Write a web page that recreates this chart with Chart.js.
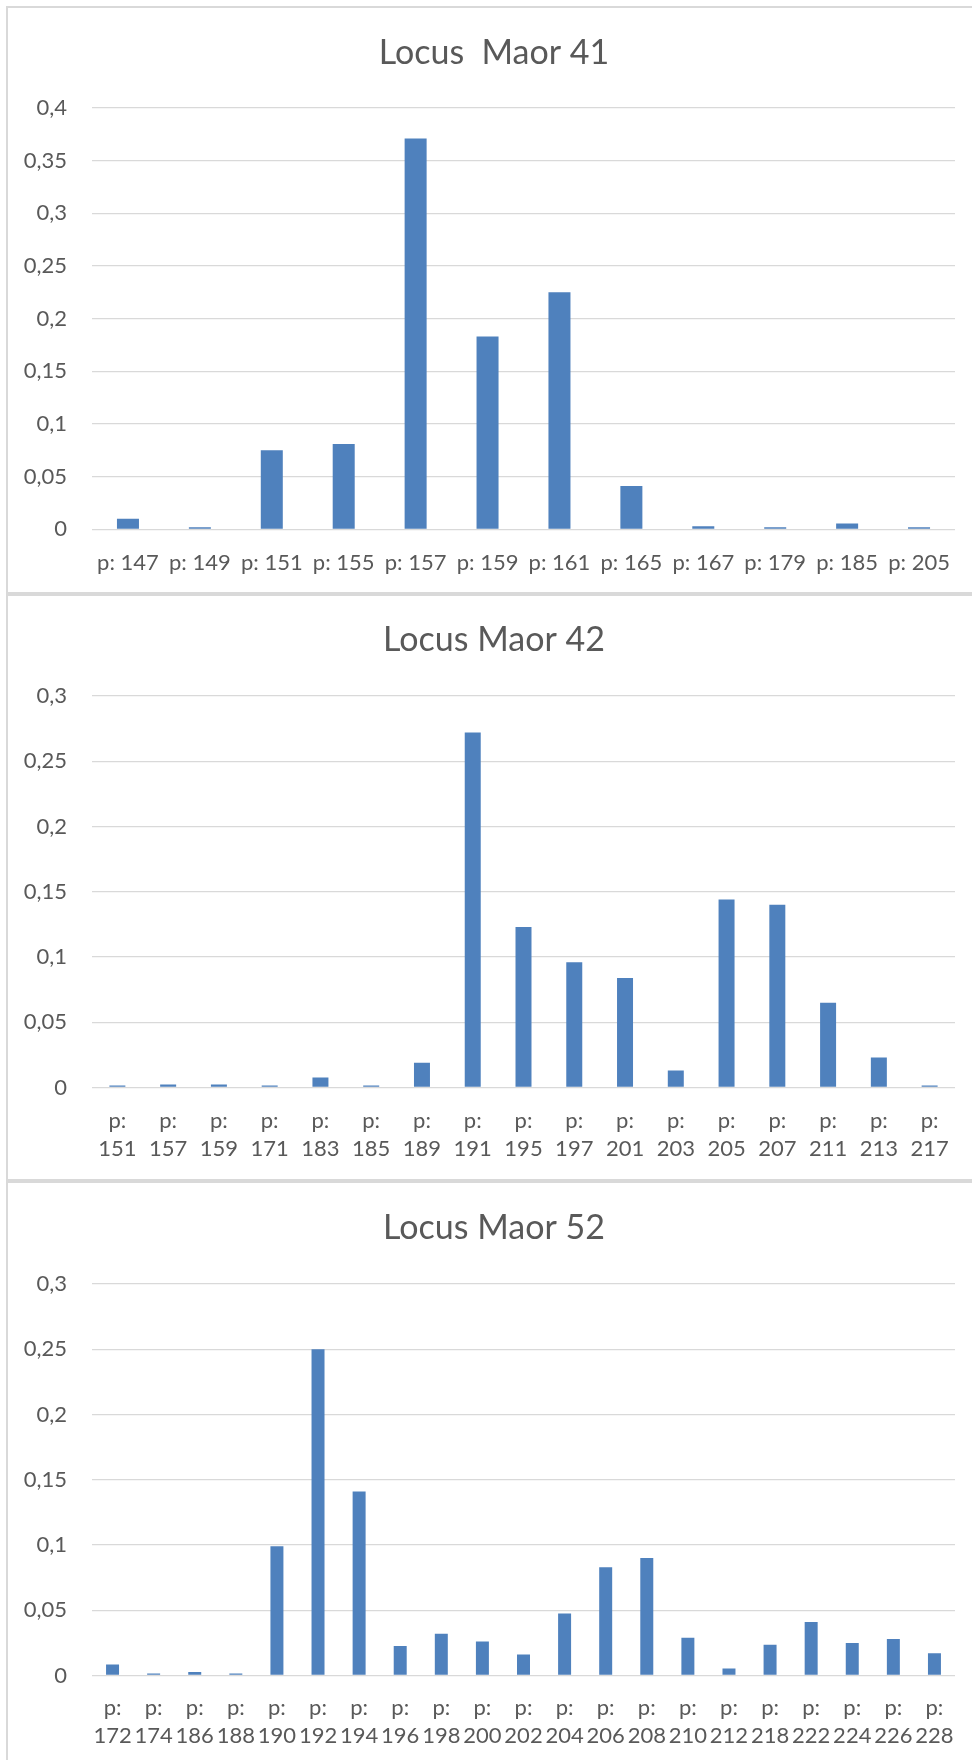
<!DOCTYPE html>
<html>
<head>
<meta charset="utf-8">
<script src="https://cdn.jsdelivr.net/npm/chart.js@4.4.1/dist/chart.umd.min.js"></script>
<style>
  html, body { margin: 0; padding: 0; background: #ffffff; overflow: hidden; width: 972px; height: 1760px; }
  .panel { position: absolute; left: 6px; border: 2px solid #d9d9d9; border-right: none; background: #fff; }
  canvas { display: block; }
</style>
</head>
<body>
<div class="panel" style="top:6px;width:972px;height:584px;"><canvas id="c1" width="972" height="584"></canvas></div>
<div class="panel" style="top:594px;width:972px;height:583px;"><canvas id="c2" width="972" height="583"></canvas></div>
<div class="panel" style="top:1181px;width:972px;height:600px;border-bottom:none;"><canvas id="c3" width="972" height="600"></canvas></div>
<script>
// ---- Data ----
const titles = ['Locus  Maor 41', 'Locus Maor 42', 'Locus Maor 52'];

const labels41 = ['p: 147', 'p: 149', 'p: 151', 'p: 155', 'p: 157', 'p: 159', 'p: 161', 'p: 165', 'p: 167', 'p: 179', 'p: 185', 'p: 205'];
const values41 = [0.010, 0.002, 0.075, 0.081, 0.371, 0.183, 0.225, 0.041, 0.003, 0.002, 0.0055, 0.002];

const labels42 = [['p:', '151'], ['p:', '157'], ['p:', '159'], ['p:', '171'], ['p:', '183'], ['p:', '185'], ['p:', '189'], ['p:', '191'], ['p:', '195'], ['p:', '197'], ['p:', '201'], ['p:', '203'], ['p:', '205'], ['p:', '207'], ['p:', '211'], ['p:', '213'], ['p:', '217']];
const values42 = [0.0015, 0.0023, 0.0023, 0.0015, 0.0076, 0.0015, 0.019, 0.272, 0.123, 0.096, 0.084, 0.013, 0.144, 0.140, 0.065, 0.023, 0.0015];

const labels52 = [['p:', '172'], ['p:', '174'], ['p:', '186'], ['p:', '188'], ['p:', '190'], ['p:', '192'], ['p:', '194'], ['p:', '196'], ['p:', '198'], ['p:', '200'], ['p:', '202'], ['p:', '204'], ['p:', '206'], ['p:', '208'], ['p:', '210'], ['p:', '212'], ['p:', '218'], ['p:', '222'], ['p:', '224'], ['p:', '226'], ['p:', '228']];
const values52 = [0.0085, 0.0015, 0.0026, 0.0015, 0.099, 0.250, 0.141, 0.0226, 0.032, 0.026, 0.016, 0.0475, 0.083, 0.090, 0.029, 0.0053, 0.0235, 0.041, 0.025, 0.028, 0.017];

const yMax = [0.4, 0.3, 0.3];
const yStep = 0.05;

// ---- Styling ----
const BAR = '#4f81bd';
const TEXT = '#595959';
const GRID = '#d9d9d9';
const FONT = 'Lato, Carlito, "Open Sans", sans-serif';

function fmt(v) {
  return Number(v.toFixed(2)).toString().replace('.', ',');
}

function makeChart(id, title, labels, values, max, cfg) {
  return new Chart(document.getElementById(id), {
    type: 'bar',
    data: {
      labels: labels,
      datasets: [{
        data: values,
        backgroundColor: BAR,
        borderWidth: 0,
        categoryPercentage: 1.0,
        barPercentage: cfg.barPct,
        yAxisID: 'y'
      }]
    },
    options: {
      responsive: false,
      animation: false,
      devicePixelRatio: 1,
      layout: { padding: 0 },
      plugins: {
        legend: { display: false },
        tooltip: { enabled: false },
        title: {
          display: true,
          text: title,
          color: TEXT,
          font: { family: FONT, size: 34, weight: 'normal', lineHeight: 1.2 },
          padding: { top: cfg.titleTop, bottom: cfg.titleBottom }
        }
      },
      scales: {
        x: {
          grid: { display: false, drawTicks: false },
          border: { display: false },
          ticks: {
            color: TEXT,
            font: { family: FONT, size: 22, lineHeight: 1.25 },
            padding: cfg.xPad,
            autoSkip: false,
            maxRotation: 0,
            minRotation: 0
          },
          afterFit: function (s) { s.height = cfg.xH; }
        },
        y: {
          min: 0,
          max: max,
          grid: { color: GRID, lineWidth: 1.3, drawTicks: false },
          border: { display: false },
          ticks: {
            stepSize: yStep,
            color: TEXT,
            font: { family: FONT, size: 22 },
            padding: 25,
            callback: function (v) { return fmt(v); }
          },
          afterFit: function (s) { s.width = 84; }
        },
        yRight: {
          position: 'right',
          min: 0,
          max: max,
          grid: { display: false, drawTicks: false },
          border: { display: false },
          ticks: { display: false },
          afterFit: function (s) { s.width = 25; }
        }
      }
    }
  });
}

makeChart('c1', titles[0], labels41, values41, yMax[0], { barPct: 0.306, titleTop: 24.6, titleBottom: 34.6, xPad: 20, xH: 62.7 });
makeChart('c2', titles[1], labels42, values42, yMax[1], { barPct: 0.315, titleTop: 23.6, titleBottom: 35.6, xPad: 20, xH: 91.5 });
makeChart('c3', titles[2], labels52, values52, yMax[2], { barPct: 0.316, titleTop: 24.6, titleBottom: 35.6, xPad: 19, xH: 107.5 });
</script>
</body>
</html>
